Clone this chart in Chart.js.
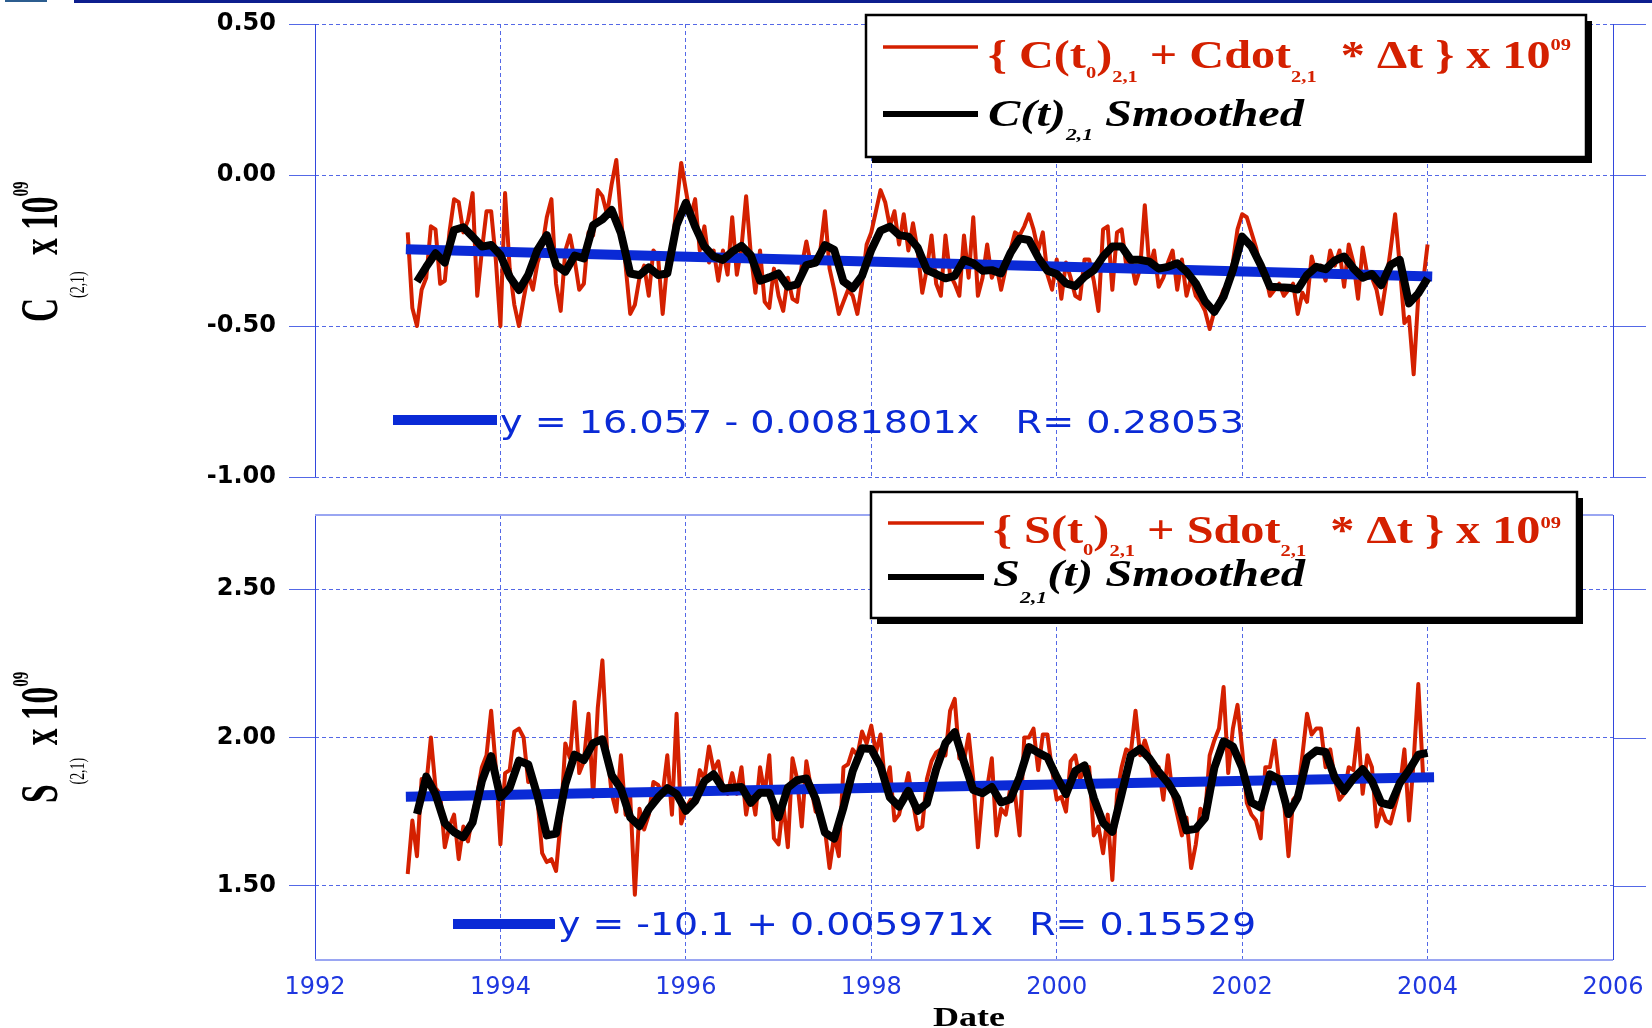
<!DOCTYPE html>
<html>
<head>
<meta charset="utf-8">
<script src="https://cdn.jsdelivr.net/npm/chart.js@4.4.1/dist/chart.umd.min.js"></script>
<style>
  html, body { margin: 0; padding: 0; background: #fff; }
  body { width: 1652px; height: 1028px; position: relative; overflow: hidden; }
  canvas { position: absolute; left: 0; }
  #topChart { top: 0; }
  #botChart { top: 470px; }
</style>
</head>
<body>
<canvas id="topChart" width="1652" height="500"></canvas>
<canvas id="botChart" width="1652" height="558"></canvas>
<script>
// colours
const GRID = '#5468e6';
const BORDER = '#3247dd';
const RED = '#d42000';
const BLUE = '#0a2ad6';
const TICKBLUE = '#1f37e0';
const SERIF = '"Liberation Serif", "Times New Roman", serif';
const SANS = '"DejaVu Sans", sans-serif';

// axes
const yearTicks = [1992, 1994, 1996, 1998, 2000, 2002, 2004, 2006];
const cTicks = [-1.0, -0.5, 0.0, 0.5];
const sTicks = [1.5, 2.0, 2.5];

// sampling of the series (decimal years)
const rawStart = 1993.0, rawStep = 0.05;
const smoothStart = 1993.1, smoothStep = 0.1;

// C(2,1) x 1e9, raw
const cRaw = [
  -0.19, -0.44, -0.50, -0.38, -0.34, -0.17, -0.18, -0.36, -0.35, -0.19, -0.08, -0.09, -0.19, -0.15, -0.06, -0.40, -0.25, -0.12, -0.12, -0.28,
  -0.50, -0.06, -0.31, -0.43, -0.50, -0.41, -0.33, -0.38, -0.29, -0.24, -0.14, -0.08, -0.36, -0.45, -0.25, -0.20, -0.28, -0.38, -0.36, -0.19,
  -0.20, -0.05, -0.07, -0.13, -0.03, 0.05, -0.14, -0.30, -0.46, -0.43, -0.34, -0.30, -0.40, -0.25, -0.27, -0.46, -0.29, -0.25, -0.10, 0.04,
  -0.05, -0.14, -0.08, -0.25, -0.17, -0.29, -0.25, -0.35, -0.25, -0.33, -0.14, -0.33, -0.24, -0.07, -0.26, -0.39, -0.25, -0.42, -0.44, -0.31,
  -0.40, -0.45, -0.34, -0.41, -0.42, -0.30, -0.22, -0.30, -0.28, -0.25, -0.12, -0.31, -0.38, -0.46, -0.42, -0.38, -0.40, -0.46, -0.36, -0.23,
  -0.19, -0.12, -0.05, -0.09, -0.17, -0.12, -0.23, -0.13, -0.25, -0.16, -0.25, -0.39, -0.31, -0.20, -0.36, -0.40, -0.20, -0.33, -0.36, -0.40,
  -0.20, -0.34, -0.14, -0.40, -0.34, -0.23, -0.34, -0.30, -0.38, -0.31, -0.25, -0.19, -0.20, -0.17, -0.13, -0.18, -0.25, -0.19, -0.33, -0.38,
  -0.28, -0.41, -0.29, -0.34, -0.40, -0.41, -0.28, -0.28, -0.35, -0.45, -0.18, -0.17, -0.38, -0.19, -0.18, -0.30, -0.28, -0.36, -0.31, -0.10,
  -0.31, -0.25, -0.37, -0.34, -0.29, -0.25, -0.38, -0.28, -0.40, -0.34, -0.40, -0.42, -0.45, -0.51, -0.45, -0.42, -0.38, -0.36, -0.29, -0.18,
  -0.13, -0.14, -0.19, -0.24, -0.31, -0.33, -0.40, -0.38, -0.36, -0.40, -0.38, -0.36, -0.46, -0.39, -0.42, -0.27, -0.33, -0.30, -0.35, -0.25,
  -0.30, -0.25, -0.37, -0.23, -0.29, -0.41, -0.24, -0.33, -0.34, -0.38, -0.46, -0.36, -0.25, -0.13, -0.30, -0.49, -0.47, -0.66, -0.40, -0.36, -0.23
];

// C(2,1) smoothed
const cSmooth = [
  -0.353, -0.304, -0.259, -0.29, -0.182, -0.173, -0.204, -0.237, -0.232, -0.265,
  -0.337, -0.381, -0.331, -0.248, -0.199, -0.298, -0.32, -0.267, -0.276, -0.166,
  -0.147, -0.116, -0.193, -0.326, -0.332, -0.306, -0.331, -0.326, -0.166, -0.092,
  -0.171, -0.237, -0.27, -0.281, -0.254, -0.235, -0.265, -0.35, -0.339, -0.326,
  -0.37, -0.362, -0.298, -0.29, -0.232, -0.248, -0.353, -0.375, -0.334, -0.248,
  -0.184, -0.171, -0.199, -0.204, -0.24, -0.315, -0.328, -0.342, -0.334, -0.281,
  -0.292, -0.317, -0.315, -0.326, -0.259, -0.21, -0.215, -0.273, -0.317, -0.328,
  -0.359, -0.368, -0.337, -0.315, -0.27, -0.237, -0.237, -0.281, -0.281, -0.287,
  -0.31, -0.304, -0.292, -0.32, -0.359, -0.419, -0.453, -0.403, -0.315, -0.204,
  -0.237, -0.298, -0.37, -0.372, -0.373, -0.379, -0.331, -0.304, -0.312, -0.283,
  -0.27, -0.309, -0.34, -0.328, -0.365, -0.298, -0.281, -0.425, -0.392, -0.342
];

// S(2,1) x 1e9, raw
const sRaw = [
  1.54, 1.72, 1.60, 1.86, 1.84, 2.00, 1.83, 1.81, 1.63, 1.70, 1.74, 1.59, 1.70, 1.65, 1.74, 1.81, 1.90, 1.94, 2.09, 1.90,
  1.64, 1.88, 1.89, 2.02, 2.03, 2.00, 1.85, 1.86, 1.79, 1.61, 1.58, 1.59, 1.55, 1.72, 1.98, 1.93, 2.12, 1.88, 1.92, 2.08,
  1.80, 2.10, 2.26, 1.96, 1.81, 1.75, 1.94, 1.74, 1.80, 1.47, 1.76, 1.69, 1.74, 1.85, 1.84, 1.81, 1.94, 1.74, 2.08, 1.71,
  1.76, 1.79, 1.79, 1.89, 1.86, 1.97, 1.89, 1.92, 1.83, 1.81, 1.88, 1.81, 1.90, 1.74, 1.83, 1.74, 1.90, 1.81, 1.94, 1.66,
  1.64, 1.78, 1.63, 1.93, 1.86, 1.70, 1.92, 1.83, 1.75, 1.74, 1.69, 1.56, 1.67, 1.60, 1.90, 1.91, 1.96, 1.94, 2.02, 1.98,
  2.04, 1.95, 2.01, 1.84, 1.90, 1.72, 1.74, 1.81, 1.88, 1.78, 1.69, 1.70, 1.86, 1.92, 1.95, 1.96, 1.94, 2.09, 2.13, 1.93,
  1.92, 2.01, 1.86, 1.63, 1.81, 1.83, 1.93, 1.67, 1.76, 1.74, 1.83, 1.81, 1.67, 2.00, 2.00, 2.03, 1.89, 2.01, 2.01, 1.89,
  1.79, 1.80, 1.75, 1.92, 1.94, 1.86, 1.89, 1.90, 1.67, 1.70, 1.61, 1.74, 1.52, 1.81, 1.90, 1.96, 1.95, 2.09, 1.94, 1.99,
  1.94, 1.85, 1.90, 1.79, 1.94, 1.81, 1.74, 1.67, 1.73, 1.56, 1.64, 1.76, 1.74, 1.94, 1.99, 2.03, 2.17, 1.88, 2.03, 2.11,
  1.96, 1.78, 1.74, 1.72, 1.66, 1.90, 1.90, 1.99, 1.85, 1.79, 1.60, 1.79, 1.81, 1.94, 2.08, 2.01, 2.03, 2.03, 1.90, 1.96,
  1.86, 1.79, 1.81, 1.90, 1.89, 2.03, 1.81, 1.94, 1.90, 1.70, 1.76, 1.72, 1.71, 1.77, 1.83, 1.96, 1.72, 1.92, 2.18, 1.88, 1.86
];

// S(2,1) smoothed
const sSmooth = [
  1.742, 1.868, 1.809, 1.711, 1.681, 1.664, 1.714, 1.853, 1.937, 1.798,
  1.831, 1.922, 1.909, 1.803, 1.67, 1.676, 1.842, 1.942, 1.924, 1.981,
  1.994, 1.873, 1.827, 1.731, 1.701, 1.759, 1.798, 1.829, 1.809, 1.753,
  1.786, 1.853, 1.876, 1.828, 1.831, 1.833, 1.78, 1.814, 1.814, 1.731,
  1.831, 1.856, 1.862, 1.793, 1.679, 1.659, 1.764, 1.887, 1.964, 1.961,
  1.903, 1.798, 1.767, 1.82, 1.753, 1.778, 1.893, 1.981, 2.018, 1.918,
  1.823, 1.812, 1.833, 1.781, 1.792, 1.867, 1.968, 1.949, 1.933, 1.867,
  1.809, 1.887, 1.906, 1.796, 1.712, 1.682, 1.809, 1.94, 1.962, 1.929,
  1.884, 1.847, 1.794, 1.687, 1.692, 1.729, 1.898, 1.987, 1.97, 1.898,
  1.781, 1.764, 1.876, 1.859, 1.742, 1.798, 1.931, 1.956, 1.951, 1.864,
  1.82, 1.862, 1.893, 1.853, 1.78, 1.772, 1.846, 1.89, 1.942, 1.948
];

// linear fits (end points of the blue lines)
const cTrendYears = [1992.98, 2004.05];
const cTrendValues = [-0.246, -0.336];
const sTrendYears = [1992.98, 2004.07];
const sTrendValues = [1.800, 1.866];

function series(values, start, step) {
  return values.map((v, i) => ({ x: +(start + i * step).toFixed(2), y: v }));
}
function pairs(xs, ys) {
  return xs.map((x, i) => ({ x: x, y: ys[i] }));
}

// text drawn in pieces (sub/superscripts), squeezed or stretched horizontally
function drawRich(ctx, x, y, parts, o) {
  ctx.save();
  const fontFor = p => [p.style || o.style || 'normal', p.weight || o.weight || 'normal',
    (p.size || o.size) + 'px', o.family].join(' ');
  const widths = parts.map(p => {
    if (p.gap !== undefined) return p.gap;
    ctx.font = fontFor(p);
    return ctx.measureText(p.t).width;
  });
  const natural = widths.reduce((s, w) => s + w, 0);
  const sx = o.width ? o.width / natural : (o.sx || 1);
  ctx.translate(x, y);
  ctx.scale(sx, 1);
  ctx.fillStyle = o.color;
  ctx.textAlign = 'left';
  ctx.textBaseline = 'alphabetic';
  let cx = 0;
  parts.forEach((p, i) => {
    if (p.gap === undefined) {
      ctx.font = fontFor(p);
      ctx.fillText(p.t, cx, p.dy || 0);
    }
    cx += widths[i];
  });
  ctx.restore();
}

const topPanel = {
  id: 'C', offY: 0, padTop: 24, axisH: 23, min: -1.0, max: 0.5, yTicks: cTicks,
  raw: cRaw, smooth: cSmooth, trendX: cTrendYears, trendY: cTrendValues, showYears: false,
  title: { x: 57, y: 322, parts: [
    { t: 'C' }, { t: '(2,1)', size: 22, dy: 27, weight: 'normal' }, { gap: 26 },
    { t: 'x 10' }, { t: '09', size: 24, dy: -29 }
  ]},
  legend: { x: 866, y: 15, w: 720, h: 142, rows: [
    { line: [883, 978, 47], color: RED, lw: 3.5,
      text: { x: 988, y: 68, width: 583, color: RED, style: 'normal', size: 40, parts: [
        { t: '{ C(t' }, { t: '0', size: 17, dy: 10 }, { t: ')' }, { t: '2,1', size: 17, dy: 14 },
        { t: ' + Cdot' }, { t: '2,1', size: 17, dy: 14 }, { t: '  * \u0394t } x 10' }, { t: '09', size: 17, dy: -18 }
      ]}},
    { line: [883, 978, 114], color: '#000', lw: 6,
      text: { x: 988, y: 126, width: 316, color: '#000', style: 'italic', size: 38, parts: [
        { t: 'C(t)' }, { t: '2,1', size: 17, dy: 14 }, { t: ' Smoothed' }
      ]}}
  ]},
  eq: { line: [393, 497, 420], x: 500, y: 433, width: 744, text: 'y = 16.057 - 0.0081801x   R= 0.28053' }
};

const botPanel = {
  id: 'S', offY: 470, padTop: 45, axisH: 68, min: 1.25, max: 2.75, yTicks: sTicks,
  raw: sRaw, smooth: sSmooth, trendX: sTrendYears, trendY: sTrendValues, showYears: true,
  title: { x: 57, y: 803, parts: [
    { t: 'S' }, { t: '(2,1)', size: 22, dy: 27, weight: 'normal' }, { gap: 20 },
    { t: 'x 10' }, { t: '09', size: 24, dy: -29 }
  ]},
  legend: { x: 871, y: 492, w: 706, h: 126, rows: [
    { line: [888, 984, 523], color: RED, lw: 3.5,
      text: { x: 993, y: 543, width: 568, color: RED, style: 'normal', size: 40, parts: [
        { t: '{ S(t' }, { t: '0', size: 17, dy: 12 }, { t: ')' }, { t: '2,1', size: 17, dy: 13 },
        { t: ' + Sdot' }, { t: '2,1', size: 17, dy: 13 }, { t: '  * \u0394t } x 10' }, { t: '09', size: 17, dy: -15 }
      ]}},
    { line: [888, 984, 577], color: '#000', lw: 6,
      text: { x: 993, y: 586, width: 312, color: '#000', style: 'italic', size: 38, parts: [
        { t: 'S' }, { t: '2,1', size: 17, dy: 17 }, { t: '(t) Smoothed' }
      ]}}
  ]},
  eq: { line: [453, 555, 924], x: 558, y: 935, width: 698, text: 'y = -10.1 + 0.005971x   R= 0.15529' }
};

function decor(p) {
  return {
    id: 'decor' + p.id,
    afterDraw(chart) {
      const ctx = chart.ctx, a = chart.chartArea, o = p.offY;
      const ys = chart.scales.y;
      ctx.save();

      // grid continues solid to the right of the frame
      ctx.strokeStyle = GRID;
      ctx.lineWidth = 1;
      p.yTicks.forEach(v => {
        const py = Math.round(ys.getPixelForValue(v)) + 0.5;
        ctx.beginPath(); ctx.moveTo(a.right, py); ctx.lineTo(1646, py); ctx.stroke();
      });

      // frame
      ctx.strokeStyle = BORDER;
      [a.left, a.right].forEach(px => {
        const xx = Math.round(px) + 0.5;
        ctx.beginPath(); ctx.moveTo(xx, a.top); ctx.lineTo(xx, a.bottom); ctx.stroke();
      });
      if (p.showYears) {
        ctx.strokeStyle = '#9aa6f2';
        ctx.lineWidth = 2;
        [a.top, a.bottom].forEach(py => {
          ctx.beginPath(); ctx.moveTo(a.left, py); ctx.lineTo(a.right, py); ctx.stroke();
        });
      }

      // rotated axis title
      ctx.save();
      ctx.translate(p.title.x, p.title.y - o);
      ctx.rotate(-Math.PI / 2);
      drawRich(ctx, 0, 0, p.title.parts, { family: SERIF, weight: 'bold', size: 53, color: '#000', sx: 0.63 });
      ctx.restore();

      // legend box with shadow
      const L = p.legend;
      ctx.fillStyle = '#000';
      ctx.fillRect(L.x + 6, L.y - o + 6, L.w, L.h);
      ctx.fillStyle = '#fff';
      ctx.fillRect(L.x, L.y - o, L.w, L.h);
      ctx.strokeStyle = '#000';
      ctx.lineWidth = 2.5;
      ctx.strokeRect(L.x, L.y - o, L.w, L.h);
      L.rows.forEach(r => {
        ctx.strokeStyle = r.color;
        ctx.lineWidth = r.lw;
        ctx.beginPath(); ctx.moveTo(r.line[0], r.line[2] - o); ctx.lineTo(r.line[1], r.line[2] - o); ctx.stroke();
        const t = r.text;
        drawRich(ctx, t.x, t.y - o, t.parts, { family: SERIF, weight: 'bold', style: t.style, size: t.size, color: t.color, width: t.width });
      });

      // fit equation
      ctx.strokeStyle = BLUE;
      ctx.lineWidth = 10;
      ctx.beginPath(); ctx.moveTo(p.eq.line[0], p.eq.line[2] - o); ctx.lineTo(p.eq.line[1], p.eq.line[2] - o); ctx.stroke();
      drawRich(ctx, p.eq.x, p.eq.y - o, [{ t: p.eq.text }], { family: SANS, size: 32, color: BLUE, width: p.eq.width });

      if (p.showYears) {
        drawRich(ctx, 933, 1026 - o, [{ t: 'Date' }], { family: SERIF, weight: 'bold', size: 27, color: '#000', width: 72 });
      } else {
        ctx.fillStyle = '#0d1e8e';
        ctx.fillRect(74, 0, 1578, 3);
        ctx.fillStyle = '#2c5d8f';
        ctx.fillRect(5, 0, 42, 2);
      }
      ctx.restore();
    }
  };
}

function makeChart(canvasId, p) {
  return new Chart(document.getElementById(canvasId), {
    type: 'line',
    data: {
      datasets: [
        { data: series(p.raw, rawStart, rawStep), borderColor: RED, borderWidth: 4, borderJoinStyle: 'round', order: 3 },
        { data: pairs(p.trendX, p.trendY), borderColor: BLUE, borderWidth: 10, borderCapStyle: 'butt', order: 2 },
        { data: series(p.smooth, smoothStart, smoothStep), borderColor: '#000', borderWidth: 8, borderJoinStyle: 'round', order: 1 }
      ]
    },
    options: {
      responsive: false,
      animation: false,
      devicePixelRatio: 1,
      layout: { padding: { left: 0, right: 39, top: p.padTop, bottom: 0 } },
      elements: { point: { radius: 0 }, line: { tension: 0, fill: false } },
      plugins: { legend: { display: false }, tooltip: { enabled: false } },
      scales: {
        x: {
          type: 'linear', min: 1992, max: 2006,
          afterBuildTicks: s => { s.ticks = yearTicks.map(v => ({ value: v })); },
          afterFit: s => { s.height = p.axisH; s.paddingLeft = 0; s.paddingRight = 0; },
          grid: { color: GRID, lineWidth: 1, drawTicks: false },
          border: { display: false, dash: [4, 3] },
          ticks: {
            display: p.showYears, padding: 13, color: TICKBLUE, autoSkip: false, maxRotation: 0,
            font: { family: SANS, size: 24 },
            callback: v => String(v)
          }
        },
        y: {
          type: 'linear', min: p.min, max: p.max,
          afterBuildTicks: s => { s.ticks = p.yTicks.map(v => ({ value: v })); },
          afterFit: s => { s.width = 315; s.paddingTop = 0; s.paddingBottom = 0; },
          grid: { color: GRID, lineWidth: 1, drawTicks: true, tickLength: 26, tickColor: GRID },
          border: { display: false, dash: [4, 3] },
          ticks: {
            padding: 13, color: '#000',
            font: { family: SANS, weight: 'bold', size: 24 },
            callback: v => v.toFixed(2)
          }
        }
      }
    },
    plugins: [decor(p)]
  });
}

makeChart('topChart', topPanel);
makeChart('botChart', botPanel);
</script>
</body>
</html>
